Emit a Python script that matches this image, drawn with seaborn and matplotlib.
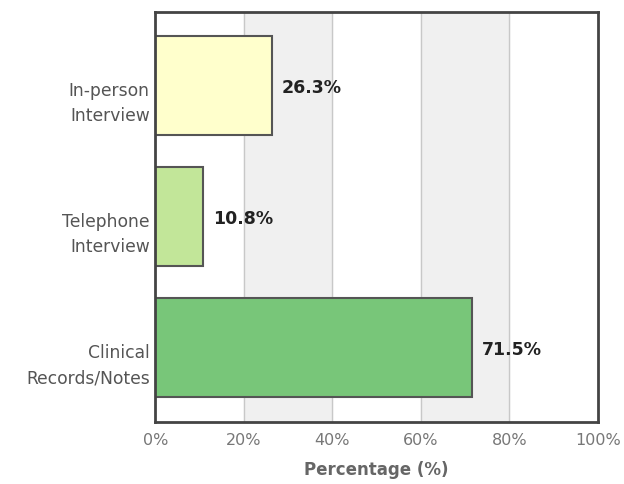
import pandas as pd
import matplotlib
matplotlib.use("Agg")
import matplotlib.pyplot as plt
import matplotlib.transforms as mtransforms
import seaborn as sns

methods = ["In-person\nInterview", "Telephone\nInterview", "Clinical\nRecords/Notes"]
percentages = [26.3, 10.8, 71.5]
bar_colors = ["#ffffcc", "#c2e699", "#78c679"]
x_ticks = [0, 20, 40, 60, 80, 100]
x_tick_labels = ["0%", "20%", "40%", "60%", "80%", "100%"]

df = pd.DataFrame({"method": methods, "pct": percentages})

sns.set_style("white")
plt.rcParams["font.family"] = ["DejaVu Sans"]

fig = plt.figure(figsize=(6.24, 4.84), dpi=100)
ax = fig.add_axes([0.249, 0.128, 0.709, 0.847])

# alternating grey bands
for i in range(1, len(x_ticks) - 1, 2):
    ax.axvspan(x_ticks[i], x_ticks[i + 1], color="#f0f0f0", zorder=0)
for t in x_ticks[1:-1]:
    ax.axvline(t, color="#c8c8c8", lw=1, zorder=0.5)

sns.barplot(data=df, x="pct", y="method", hue="method", palette=bar_colors,
            orient="h", width=0.75, saturation=1, edgecolor="#555555", linewidth=1.5,
            legend=False, ax=ax, zorder=2)

for i, v in enumerate(percentages):
    ax.text(v + 2.2, i + 0.02, f"{v}%", va="center", ha="left",
            fontsize=12.5, fontweight="bold", color="#222222")

ax.set_xlim(0, 100)
ax.set_ylim(2.57, -0.56)
ax.set_xticks(x_ticks)
ax.set_xticklabels(x_tick_labels, color="#777777", fontsize=11.5)
ax.set_yticks(range(len(methods)))
ax.set_yticklabels(methods, linespacing=1.5)
ax.tick_params(axis="y", labelcolor="#555555", labelsize=12.3, length=0, pad=4)
ax.tick_params(axis="x", length=0, pad=8)
ax.set_ylabel("")
ax.set_xlabel("Percentage (%)", fontsize=12, fontweight="bold", color="#666666", labelpad=9)

# category labels sit a little below the bar centres
shift = mtransforms.ScaledTranslation(0, -0.13, fig.dpi_scale_trans)
for lab in ax.get_yticklabels():
    lab.set_transform(lab.get_transform() + shift)

for s in ax.spines.values():
    s.set_visible(True)
    s.set_color("#444444")
    s.set_linewidth(2)

fig.savefig("out.png", dpi=100)
